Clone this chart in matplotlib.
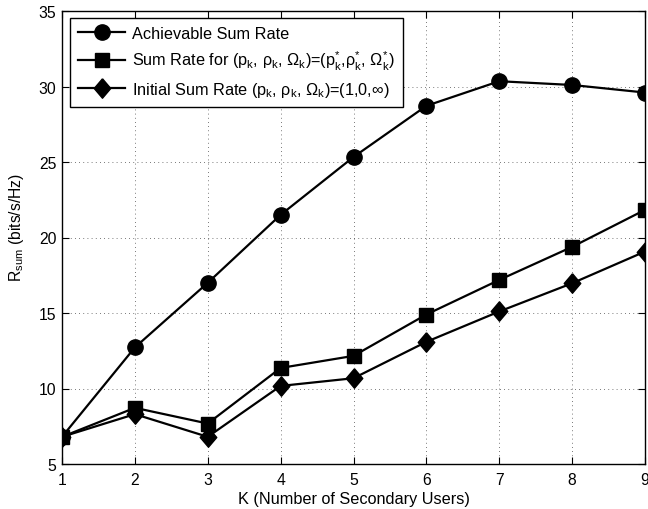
import matplotlib
matplotlib.use("Agg")
import matplotlib.pyplot as plt

plt.rcParams['font.family'] = ['Liberation Sans', 'DejaVu Sans']
plt.rcParams['mathtext.fontset'] = 'custom'
plt.rcParams['mathtext.rm'] = 'Liberation Sans'
plt.rcParams['mathtext.it'] = 'Liberation Sans:italic'
plt.rcParams['mathtext.bf'] = 'Liberation Sans:bold'

K = [1, 2, 3, 4, 5, 6, 7, 8, 9]
achievable = [6.8, 12.72, 17.0, 21.5, 25.33, 28.72, 30.35, 30.1, 29.6]
optimal = [6.8, 8.72, 7.68, 11.36, 12.16, 14.9, 17.19, 19.38, 21.83]
initial = [6.8, 8.3, 6.8, 10.17, 10.68, 13.09, 15.1, 16.97, 19.07]

labels = [
    'Achievable Sum Rate',
    r'Sum Rate for (p$_\mathrm{k}$, ρ$_\mathrm{k}$, Ω$_\mathrm{k}$)=(p$_\mathrm{k}^{*}$,ρ$_\mathrm{k}^{*}$, Ω$_\mathrm{k}^{*}$)',
    r'Initial Sum Rate (p$_\mathrm{k}$, ρ$_\mathrm{k}$, Ω$_\mathrm{k}$)=(1,0,∞)',
]
xticks = [1, 2, 3, 4, 5, 6, 7, 8, 9]
yticks = [5, 10, 15, 20, 25, 30, 35]

fig = plt.figure(figsize=(6.48, 5.10), dpi=100)
L, R, T, B = 62, 645, 12, 465
ax = fig.add_axes([L/648, 1-B/510, (R-L)/648, (B-T)/510])

diamond = [(0, 1), (0.85, 0), (0, -1), (-0.85, 0), (0, 1)]
lw = 1.6
ax.plot(K, achievable, color='black', lw=lw, marker='o', ms=11, label=labels[0], zorder=3)
ax.plot(K, optimal, color='black', lw=lw, marker='s', ms=9.5, label=labels[1], zorder=3)
ax.plot(K, initial, color='black', lw=lw, marker=diamond, ms=14, label=labels[2], zorder=3)

ax.set_xlim(1, 9)
ax.set_ylim(5, 35)
ax.set_xticks(xticks)
ax.set_yticks(yticks)
ax.tick_params(direction='in', top=True, right=True, length=5, width=0.8, labelsize=11.3)
ax.tick_params(axis='x', pad=6)
ax.tick_params(axis='y', pad=4)
ax.grid(True, linestyle=(0, (1, 4)), color='black', linewidth=0.6, alpha=0.7)
for s in ax.spines.values():
    s.set_linewidth(1.0)

ax.set_xlabel('K (Number of Secondary Users)', fontsize=11.7, labelpad=3)
ax.set_ylabel(r'R$_\mathrm{sum}$ (bits/s/Hz)', fontsize=11.3)
ax.yaxis.set_label_coords(-0.062, 0.525)

leg = ax.legend(loc='upper left', bbox_to_anchor=(8/(R-L), 1-7/(B-T)), borderaxespad=0,
                fancybox=False, edgecolor='black', framealpha=1, fontsize=11.7,
                handlelength=2.9, handletextpad=0.4, labelspacing=0.47, borderpad=0.5)
leg.get_frame().set_linewidth(1.0)

fig.savefig('out.png', dpi=100)
